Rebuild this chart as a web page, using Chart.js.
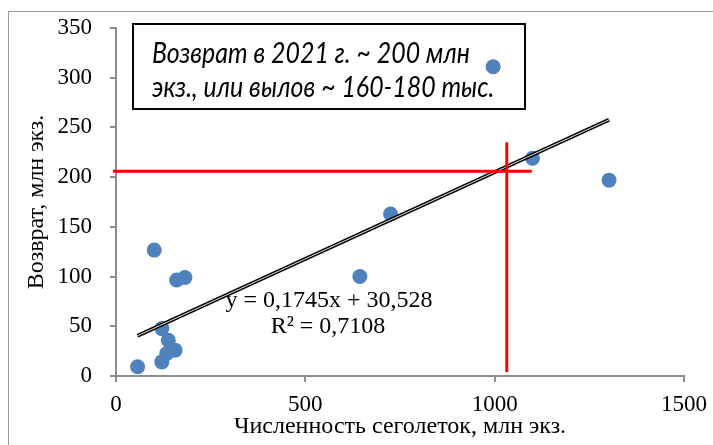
<!DOCTYPE html>
<html>
<head>
<meta charset="utf-8">
<script src="https://cdn.jsdelivr.net/npm/chart.js@4"></script>
<style>
  html, body { margin: 0; padding: 0; background: #fff; }
  #wrap { width: 713px; height: 445px; position: relative; }
</style>
</head>
<body>
<div id="wrap"><canvas id="c" width="713" height="445"></canvas></div>
<script>
// Young-of-year abundance (x) vs. return (y), million fish
const abundance = [57, 101, 160, 182, 121, 138, 156, 134, 121, 644, 725, 996, 1100, 1302];
const returns   = [9.3, 126.6, 96.5, 99, 47.7, 36, 26, 22.6, 14.2, 100, 163, 311, 219, 197];

// Linear trend from the fitted equation
const trendSlope = 0.1745;
const trendIntercept = 30.528;
const trendLabel = ['y = 0,1745x + 30,528', 'R² = 0,7108'];

// 2021 forecast guide lines
const guideH = { x: [-8, 1098], y: [206, 206] };
const guideV = { x: [1032, 1032], y: [4, 235] };

const xTicks = [0, 500, 1000, 1500];
const yTicks = [0, 50, 100, 150, 200, 250, 300, 350];

const noteLines = ['Возврат в 2021 г. ~ 200 млн', 'экз., или вылов ~ 160-180 тыс.'];

const xTitle = 'Численность сеголеток, млн экз.';
const yTitle = 'Возврат, млн экз.';

const points = abundance.map((x, i) => ({ x, y: returns[i] }));
const xMin = Math.min(...abundance), xMax = Math.max(...abundance);
const trend = [xMin, xMax].map(x => ({ x, y: trendSlope * x + trendIntercept }));
const toXY = g => g.x.map((x, i) => ({ x, y: g.y[i] }));

const axisGray = '#8c8c8c';
const serif = 'Liberation Serif';

const framePlugin = {
  id: 'frame',
  beforeDraw(chart) {
    const ctx = chart.ctx;
    ctx.save();
    ctx.fillStyle = '#fff';
    ctx.fillRect(0, 0, chart.width, chart.height);
    ctx.strokeStyle = '#9a9a9a';
    ctx.lineWidth = 1;
    ctx.beginPath();
    ctx.moveTo(8.5, chart.height + 2);
    ctx.lineTo(8.5, 11.5);
    ctx.lineTo(chart.width + 2, 11.5);
    ctx.stroke();
    ctx.restore();
  }
};

const notePlugin = {
  id: 'note',
  beforeDatasetsDraw(chart) {
    const ctx = chart.ctx;
    ctx.save();
    ctx.fillStyle = '#fff';
    ctx.fillRect(133, 24, 392, 85);
    ctx.strokeStyle = '#000';
    ctx.lineWidth = 2;
    ctx.strokeRect(133, 24, 392, 85);
    // fit the note text into the box width, slightly tall letterforms
    ctx.font = 'italic 24px Lato';
    const w = ctx.measureText(noteLines[0]).width;
    const size = 24 * 318 / w;
    ctx.font = 'italic ' + size.toFixed(2) + 'px Lato';
    const sy = 21 / (0.7165 * size);
    ctx.fillStyle = '#000';
    ctx.textBaseline = 'alphabetic';
    ctx.textAlign = 'left';
    [63, 97].forEach((base, i) => {
      ctx.save();
      ctx.translate(152, base);
      ctx.scale(1, sy);
      ctx.fillText(noteLines[i], 0, 0);
      ctx.restore();
    });
    ctx.restore();
  },
  afterDatasetsDraw(chart) {
    const ctx = chart.ctx;
    ctx.save();
    ctx.font = '24px "' + serif + '"';
    ctx.fillStyle = '#000';
    ctx.textAlign = 'center';
    ctx.textBaseline = 'alphabetic';
    ctx.fillText(trendLabel[0], 329, 307);
    ctx.fillText(trendLabel[1], 328, 333);
    ctx.restore();
  }
};

const axisFont = { family: serif, size: 23 };
const titleFont = { family: serif, size: 24 };
const plain = v => String(v);

new Chart(document.getElementById('c'), {
  type: 'scatter',
  data: {
    datasets: [
      { data: toXY(guideH), showLine: true, borderColor: '#ff0000', borderWidth: 3,
        pointRadius: 0, clip: false, order: 0 },
      { data: toXY(guideV), showLine: true, borderColor: '#ff0000', borderWidth: 3,
        pointRadius: 0, clip: false, order: 0 },
      { data: trend, showLine: true, borderColor: '#e6e6e6', borderWidth: 1,
        pointRadius: 0, order: 1 },
      { data: trend, showLine: true, borderColor: '#000', borderWidth: 4,
        pointRadius: 0, order: 2 },
      { data: points, pointRadius: 7.5, pointBackgroundColor: '#4f81bd',
        pointBorderWidth: 0, backgroundColor: '#4f81bd', order: 3 }
    ]
  },
  options: {
    responsive: false,
    animation: false,
    layout: { padding: { top: 28, right: 29, left: 0, bottom: 0 } },
    plugins: { legend: { display: false }, tooltip: { enabled: false } },
    scales: {
      x: {
        type: 'linear', min: 0, max: 1500,
        afterBuildTicks(s) { s.ticks = xTicks.map(v => ({ value: v })); },
        afterFit(s) { s.height = 69; s.paddingLeft = 0; s.paddingRight = 0; },
        ticks: { font: axisFont, color: '#000', padding: 9, callback: plain },
        grid: { drawOnChartArea: false, drawTicks: true, tickLength: 6, color: axisGray, lineWidth: 2 },
        border: { color: axisGray, width: 2 },
        title: { display: true, text: xTitle, font: titleFont, color: '#000', padding: { top: 0, bottom: 4 } }
      },
      y: {
        type: 'linear', min: 0, max: 350,
        afterBuildTicks(s) { s.ticks = yTicks.map(v => ({ value: v })); },
        afterFit(s) { s.width = 116; s.paddingTop = 0; s.paddingBottom = 0; },
        ticks: { font: axisFont, color: '#000', padding: 18, callback: plain },
        grid: { drawOnChartArea: false, drawTicks: true, tickLength: 6, color: axisGray, lineWidth: 2 },
        border: { color: axisGray, width: 2 },
        title: { display: true, text: yTitle, font: titleFont, color: '#000', padding: { top: 22, bottom: 0 } }
      }
    }
  },
  plugins: [framePlugin, notePlugin]
});
</script>
</body>
</html>
